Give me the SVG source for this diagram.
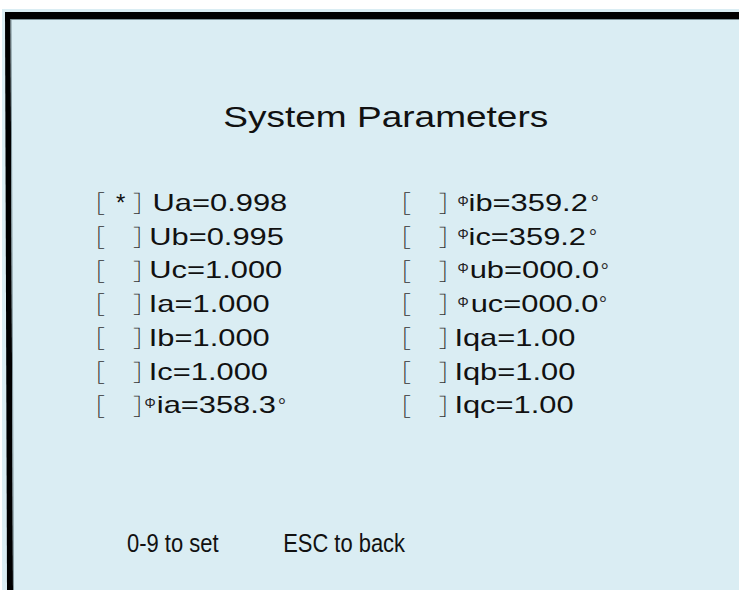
<svg xmlns="http://www.w3.org/2000/svg" width="739" height="590" viewBox="0 0 739 590">
<style>
.t{font-family:"Liberation Sans",Arial,sans-serif;font-size:24px;fill:#111}
.br{font-family:"Noto Sans CJK SC","Liberation Sans",sans-serif;font-weight:300;font-size:23px;fill:#333}
.rb{letter-spacing:-13px}
.ph{font-family:"Liberation Sans",Arial,sans-serif;font-size:14px;font-weight:400;fill:#222}
.dg{font-family:"Liberation Sans",Arial,sans-serif;font-size:21px;font-weight:400;fill:#333}
.ttl{font-family:"Liberation Sans",Arial,sans-serif;font-size:30px;fill:#111}
.ft{font-family:"Liberation Sans",Arial,sans-serif;font-size:25px;fill:#111}
</style>
<rect x="0" y="0" width="739" height="590" fill="#ffffff"/>
<rect x="2" y="9" width="737" height="581" fill="#DAEDF3"/>
<g id="frame">
<rect x="5" y="12" width="734" height="7" fill="#000"/>
<polygon points="5,12 10.5,12 13,590 7,590" fill="#000"/>
<line x1="10.5" y1="19.5" x2="739" y2="19.5" stroke="#7f9399" stroke-width="1"/>
<line x1="11" y1="20" x2="13.5" y2="590" stroke="#7f9399" stroke-width="1"/>
</g>
<g id="title"><text class="ttl" x="223.3" y="126.7" textLength="325" lengthAdjust="spacingAndGlyphs">System Parameters</text></g>

<g id="left-column">
<g id="row-ua"><text class="t"><tspan class="br" x="82.1" y="212">［</tspan><tspan x="116" y="210.8">*</tspan><tspan class="br rb" x="133.1" y="212">］</tspan><tspan x="152.6" y="210.8" textLength="134.6" lengthAdjust="spacingAndGlyphs">Ua=0.998</tspan></text></g>
<g id="row-ub"><text class="t"><tspan class="br" x="82.1" y="245.75">［</tspan><tspan class="br rb" x="133.1" y="245.75">］</tspan><tspan x="149.3" y="244.55" textLength="134.6" lengthAdjust="spacingAndGlyphs">Ub=0.995</tspan></text></g>
<g id="row-uc"><text class="t"><tspan class="br" x="82.1" y="279.5">［</tspan><tspan class="br rb" x="133.1" y="279.5">］</tspan><tspan x="149.3" y="278.3" textLength="132.9" lengthAdjust="spacingAndGlyphs">Uc=1.000</tspan></text></g>
<g id="row-ia"><text class="t"><tspan class="br" x="82.1" y="313.25">［</tspan><tspan class="br rb" x="133.1" y="313.25">］</tspan><tspan x="148.8" y="312.05" textLength="120.9" lengthAdjust="spacingAndGlyphs">Ia=1.000</tspan></text></g>
<g id="row-ib"><text class="t"><tspan class="br" x="82.1" y="347">［</tspan><tspan class="br rb" x="133.1" y="347">］</tspan><tspan x="148.8" y="345.8" textLength="120.9" lengthAdjust="spacingAndGlyphs">Ib=1.000</tspan></text></g>
<g id="row-ic"><text class="t"><tspan class="br" x="82.1" y="380.75">［</tspan><tspan class="br rb" x="133.1" y="380.75">］</tspan><tspan x="148.8" y="379.55" textLength="119.2" lengthAdjust="spacingAndGlyphs">Ic=1.000</tspan></text></g>
<g id="row-phia"><text class="t"><tspan class="br" x="82.1" y="414.5">［</tspan><tspan class="br rb" x="133.1" y="414.5">］</tspan><tspan class="ph" x="144.5" y="408">Φ</tspan><tspan x="156.8" y="413.3" textLength="119.2" lengthAdjust="spacingAndGlyphs">ia=358.3</tspan><tspan class="dg" x="277.7" y="412.5">°</tspan></text></g>
</g>

<g id="right-column">
<g id="row-phib"><text class="t"><tspan class="br" x="388.1" y="212">［</tspan><tspan class="br rb" x="438.8" y="212">］</tspan><tspan class="ph" x="457.5" y="205.5">Φ</tspan><tspan x="468.6" y="210.8" textLength="119.2" lengthAdjust="spacingAndGlyphs">ib=359.2</tspan><tspan class="dg" x="590.4" y="210">°</tspan></text></g>
<g id="row-phic"><text class="t"><tspan class="br" x="388.1" y="245.75">［</tspan><tspan class="br rb" x="438.8" y="245.75">］</tspan><tspan class="ph" x="457.5" y="239.25">Φ</tspan><tspan x="468.6" y="244.55" textLength="117.4" lengthAdjust="spacingAndGlyphs">ic=359.2</tspan><tspan class="dg" x="588.7" y="243.75">°</tspan></text></g>
<g id="row-phub"><text class="t"><tspan class="br" x="388.1" y="279.5">［</tspan><tspan class="br rb" x="438.8" y="279.5">］</tspan><tspan class="ph" x="457.5" y="273">Φ</tspan><tspan x="469.7" y="278.3" textLength="129.5" lengthAdjust="spacingAndGlyphs">ub=000.0</tspan><tspan class="dg" x="600.4" y="277.5">°</tspan></text></g>
<g id="row-phuc"><text class="t"><tspan class="br" x="388.1" y="313.25">［</tspan><tspan class="br rb" x="438.8" y="313.25">］</tspan><tspan class="ph" x="457.5" y="306.75">Φ</tspan><tspan x="470.7" y="312.05" textLength="127.7" lengthAdjust="spacingAndGlyphs">uc=000.0</tspan><tspan class="dg" x="598.7" y="311.25">°</tspan></text></g>
<g id="row-iqa"><text class="t"><tspan class="br" x="388.1" y="347">［</tspan><tspan class="br rb" x="438.8" y="347">］</tspan><tspan x="454.4" y="345.8" textLength="120.9" lengthAdjust="spacingAndGlyphs">Iqa=1.00</tspan></text></g>
<g id="row-iqb"><text class="t"><tspan class="br" x="388.1" y="380.75">［</tspan><tspan class="br rb" x="438.8" y="380.75">］</tspan><tspan x="454.4" y="379.55" textLength="120.9" lengthAdjust="spacingAndGlyphs">Iqb=1.00</tspan></text></g>
<g id="row-iqc"><text class="t"><tspan class="br" x="388.1" y="414.5">［</tspan><tspan class="br rb" x="438.8" y="414.5">］</tspan><tspan x="454.4" y="413.3" textLength="119.2" lengthAdjust="spacingAndGlyphs">Iqc=1.00</tspan></text></g>
</g>

<g id="footer">
<text class="ft" x="127" y="552" textLength="91.5" lengthAdjust="spacingAndGlyphs">0-9 to set</text>
<text class="ft" x="283.2" y="552" textLength="121.8" lengthAdjust="spacingAndGlyphs">ESC to back</text>
</g>
</svg>
